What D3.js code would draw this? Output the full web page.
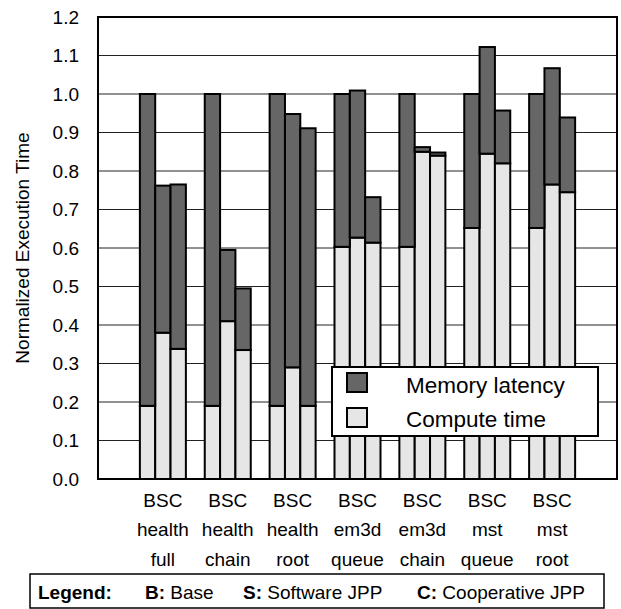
<!DOCTYPE html>
<html>
<head>
<meta charset="utf-8">
<script src="https://cdn.jsdelivr.net/npm/d3@7"></script>
<style>
  body { margin: 0; background: #fff; }
  text { font-family: "Liberation Sans", Arial, sans-serif; fill: #000; }
</style>
</head>
<body>
<svg id="chart"></svg>
<script>
// benchmarks, one group of three bars each
const groupLines = [
  ["BSC", "health", "full"],
  ["BSC", "health", "chain"],
  ["BSC", "health", "root"],
  ["BSC", "em3d", "queue"],
  ["BSC", "em3d", "chain"],
  ["BSC", "mst", "queue"],
  ["BSC", "mst", "root"]
];
const configs = ["B", "S", "C"];

// [B, S, C] per group
const computeTime = [
  [0.19, 0.38, 0.338],
  [0.19, 0.41, 0.335],
  [0.19, 0.29, 0.19],
  [0.603, 0.627, 0.614],
  [0.603, 0.85, 0.84],
  [0.652, 0.845, 0.82],
  [0.652, 0.765, 0.745]
];
const memoryLatency = [
  [0.81, 0.382, 0.427],
  [0.81, 0.185, 0.16],
  [0.81, 0.658, 0.721],
  [0.397, 0.382, 0.118],
  [0.397, 0.012, 0.008],
  [0.348, 0.277, 0.137],
  [0.348, 0.302, 0.194]
];
const yTicks = [0, 0.1, 0.2, 0.3, 0.4, 0.5, 0.6, 0.7, 0.8, 0.9, 1.0, 1.1, 1.2];

const W = 621, H = 609;
const margin = { top: 17, left: 98, right: 4, bottom: 130 };
const width = W - margin.left - margin.right,
  height = H - margin.top - margin.bottom;

const svg = d3.select("#chart").attr("width", W).attr("height", H);
const g = svg.append("g").attr("transform", `translate(${margin.left},${margin.top})`);

const groupIds = groupLines.map(d => d.join(" "));
const x = d3.scalePoint().domain(groupIds).range([width / 8, width * 7 / 8]);
const xSub = d3.scaleBand().domain(configs).range([-23, 23]);
const y = d3.scaleLinear().domain([0, 1.2]).range([height, 0]);

// grid lines
g.append("g")
  .selectAll("line")
  .data(yTicks)
  .enter()
  .append("line")
  .attr("x1", 0).attr("x2", width)
  .attr("y1", d => y(d)).attr("y2", d => y(d))
  .attr("stroke", "#222")
  .attr("stroke-width", 1);

// y axis labels
const yAxis = g.append("g")
  .call(d3.axisLeft(y).tickValues(yTicks).tickFormat(d3.format(".1f")).tickSize(0).tickPadding(19));
yAxis.select(".domain").remove();
yAxis.selectAll("text")
  .style("font-size", "19px")
  .style("font-family", "Liberation Sans, Arial, sans-serif");

// stacked bars
const rows = [];
groupIds.forEach((gid, i) => {
  configs.forEach((c, j) => {
    rows.push({ group: gid, config: c, compute: computeTime[i][j], memory: memoryLatency[i][j] });
  });
});
const stack = d3.stack().keys(["compute", "memory"]);
const series = stack(rows);
const fills = { compute: "#e6e6e6", memory: "#666666" };

g.selectAll(".layer")
  .data(series)
  .enter()
  .append("g")
  .attr("class", "layer")
  .attr("fill", d => fills[d.key])
  .selectAll("rect")
  .data(d => d)
  .enter()
  .append("rect")
  .attr("x", d => x(d.data.group) + xSub(d.data.config))
  .attr("width", xSub.bandwidth())
  .attr("y", d => y(d[1]))
  .attr("height", d => y(d[0]) - y(d[1]))
  .attr("stroke", "#000")
  .attr("stroke-width", 2);

// plot frame
g.append("rect")
  .attr("width", width).attr("height", height)
  .attr("fill", "none")
  .attr("stroke", "#000")
  .attr("stroke-width", 2);

// category labels (3 lines)
const cat = g.append("g").attr("transform", `translate(0,${height})`);
groupLines.forEach((lines, i) => {
  const t = cat.append("text")
    .attr("text-anchor", "middle")
    .attr("x", x(groupIds[i]))
    .style("font-size", "19px");
  lines.forEach((ln, k) => {
    t.append("tspan").attr("x", x(groupIds[i])).attr("y", 27.5 + k * 29.5).text(ln);
  });
});

// y axis title
svg.append("text")
  .attr("transform", `translate(29,${margin.top + height / 2}) rotate(-90)`)
  .attr("text-anchor", "middle")
  .style("font-size", "19px")
  .text("Normalized Execution Time");

// series legend
const leg = svg.append("g").attr("transform", "translate(332,367)");
leg.append("rect")
  .attr("width", 266).attr("height", 69)
  .attr("fill", "#fff").attr("stroke", "#000").attr("stroke-width", 2);
const legItems = [
  { label: "Memory latency", fill: fills.memory },
  { label: "Compute time", fill: fills.compute }
];
legItems.forEach((d, i) => {
  leg.append("rect")
    .attr("x", 15).attr("y", 6 + i * 35)
    .attr("width", 20).attr("height", 19)
    .attr("fill", d.fill).attr("stroke", "#000").attr("stroke-width", 2);
  leg.append("text")
    .attr("x", 74).attr("y", 25.5 + i * 34.5)
    .style("font-size", "22.5px")
    .text(d.label);
});

// configuration legend at the bottom
const bot = svg.append("g").attr("transform", "translate(30,574)");
bot.append("rect")
  .attr("width", 574).attr("height", 34)
  .attr("fill", "#fff").attr("stroke", "#000").attr("stroke-width", 1.5);
const keyItems = [
  { bold: "Legend:", rest: "", x: 8 },
  { bold: "B:", rest: " Base", x: 115 },
  { bold: "S:", rest: " Software JPP", x: 213 },
  { bold: "C:", rest: " Cooperative JPP", x: 387 }
];
keyItems.forEach(d => {
  const t = bot.append("text").attr("x", d.x).attr("y", 25).style("font-size", "19px");
  t.append("tspan").style("font-weight", "bold").text(d.bold);
  t.append("tspan").text(d.rest);
});
</script>
</body>
</html>
